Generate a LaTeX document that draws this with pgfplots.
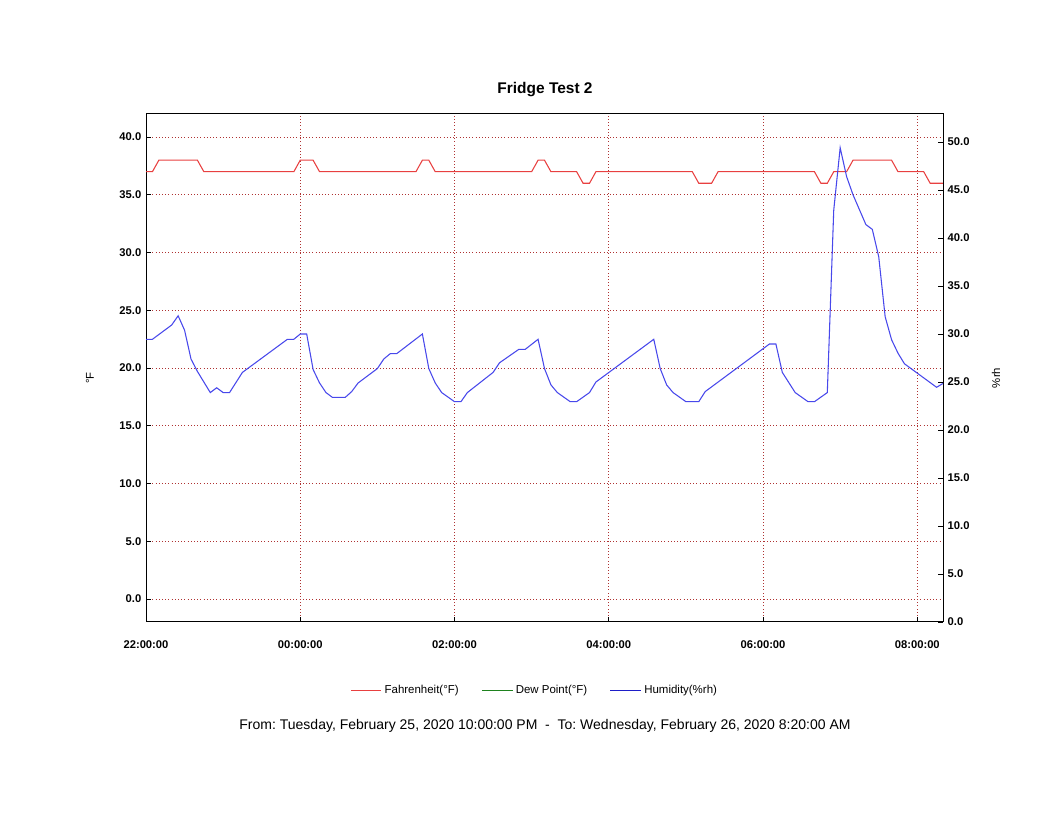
\documentclass[border=0pt]{standalone}
\usepackage{fontspec}
\setmainfont{Liberation Sans}
\usepackage{pgfplots}
\pgfplotsset{compat=1.18}
\frenchspacing
\definecolor{tred}{RGB}{232,64,64}
\definecolor{tblue}{RGB}{72,72,235}
\definecolor{tgreen}{RGB}{30,130,30}
\definecolor{lblue}{RGB}{30,30,200}
\definecolor{gridc}{RGB}{175,50,50}
\begin{document}
\begin{tikzpicture}[x=0.75pt,y=0.75pt]
\path[use as bounding box] (0,0) rectangle (1056,816);
\begin{axis}[
  at={(109.5pt,145.5pt)}, anchor=south west,
  scale only axis, width=597.75pt, height=381pt,
  xmin=0, xmax=620, ymin=-2, ymax=42,
  xtick={0,120,240,360,480,600},
  xticklabels={22:00:00,00:00:00,02:00:00,04:00:00,06:00:00,08:00:00},
  ytick={0,5,...,40},
  xtick pos=bottom, ytick pos=left,
  tick align=inside, major tick length=3.75pt,
  tick style={black, line width=0.6pt},
  axis line style={black, line width=0.75pt},
  grid=major, major grid style={gridc, dotted, line width=0.6pt},
  /pgf/number format/assume math mode=true,
  yticklabel style={/pgf/number format/.cd, fixed, fixed zerofill, precision=1},
  ticklabel style={font=\fontsize{8.4}{9}\selectfont\bfseries},
  xticklabel style={yshift=-10.5pt},
  legend columns=3,
  legend style={at={(0.488,-0.135)}, anchor=center, draw=none, fill=none,
    font=\fontsize{8.6}{10}\selectfont,
    /tikz/every even column/.append style={column sep=15pt}},
  legend image code/.code={\draw[sharp plot] plot coordinates {(0pt,0pt) (11.5pt,0pt) (23pt,0pt)};},
]
\addplot[tred, line width=0.8pt, sharp plot] coordinates {
(0,37)(5,37)(10,38)(40,38)(45,37)(115,37)(120,38)(130,38)(135,37)(210,37)(215,38)(220,38)(225,37)(300,37)(305,38)(310,38)(315,37)(335,37)(340,36)(345,36)(350,37)(425,37)(430,36)(440,36)(445,37)(520,37)(525,36)(530,36)(535,37)(545,37)(550,38)(580,38)(585,37)(605,37)(610,36)(620,36)
};
\addlegendentry{Fahrenheit(°F)}
\addlegendimage{tgreen, line width=0.8pt}
\addlegendentry{Dew Point(°F)}
\addlegendimage{lblue, line width=0.8pt}
\addlegendentry{Humidity(\%rh)}
\end{axis}
\begin{axis}[
  at={(109.5pt,145.5pt)}, anchor=south west,
  scale only axis, width=597.75pt, height=381pt,
  xmin=0, xmax=620, ymin=0, ymax=52.92,
  axis y line*=right, axis x line=none,
  ytick={0,5,...,50},
  tick align=inside, major tick length=3.75pt,
  tick style={black, line width=0.6pt},
  axis line style={black, line width=0.75pt},
  /pgf/number format/assume math mode=true,
  yticklabel style={/pgf/number format/.cd, fixed, fixed zerofill, precision=1},
  ticklabel style={font=\fontsize{8.4}{9}\selectfont\bfseries},
]
\addplot[tblue, line width=0.8pt, sharp plot] coordinates {
(0,29.45)(5,29.45)(20,30.94)(25,31.9)(30,30.4)(35,27.4)(40,26.1)(50,23.9)(55,24.4)(60,23.9)(65,23.9)(75,26.0)(110,29.45)(115,29.45)(120,30.0)(125,30.0)(130,26.3)(135,24.9)(140,23.9)(145,23.4)(155,23.4)(160,24.0)(165,24.9)(180,26.4)(185,27.4)(190,27.95)(195,27.95)(215,30.0)(220,26.4)(225,24.9)(230,23.9)(240,22.95)(245,22.95)(250,23.9)(270,26.0)(275,27.0)(290,28.4)(295,28.4)(305,29.45)(310,26.4)(315,24.7)(320,23.9)(330,22.95)(335,22.95)(345,23.9)(350,25.0)(395,29.45)(400,26.4)(405,24.7)(410,23.9)(420,22.95)(430,22.95)(435,24.0)(485,28.96)(490,28.96)(495,26.0)(505,23.9)(515,22.95)(520,22.95)(530,23.9)(535,42.9)(540,49.4)(545,46.4)(550,44.5)(560,41.4)(565,40.9)(570,38.05)(575,31.8)(580,29.4)(585,28.0)(590,26.9)(615,24.45)(620,24.85)
};
\end{axis}
\node[font=\fontsize{11.6}{13}\selectfont\bfseries] at (545,726) {Fridge Test 2};
\node[rotate=90, font=\fontsize{8.5}{10}\selectfont] at (90,438) {°F};
\node[rotate=90, font=\fontsize{8.5}{10}\selectfont] at (996,438) {\%rh};
\node[font=\fontsize{10.5}{12}\selectfont] at (545,90) {From: Tuesday, February 25, 2020 10:00:00 PM~~-~~To: Wednesday, February 26, 2020 8:20:00 AM};
\end{tikzpicture}
\end{document}
